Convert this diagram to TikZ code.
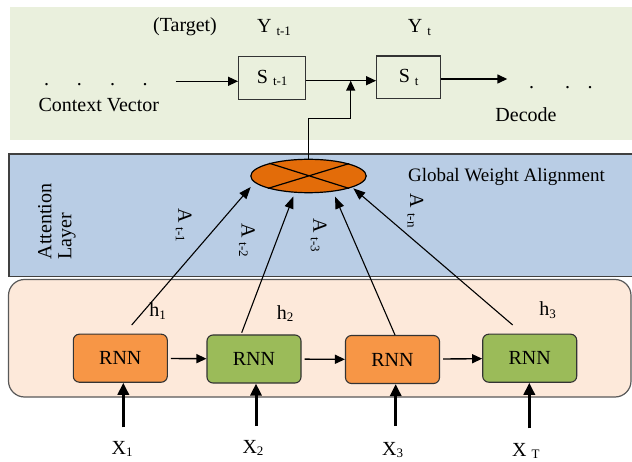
\documentclass[tikz,border=0pt]{standalone}
\usepackage{fontspec}
\setmainfont{Liberation Serif}
\usetikzlibrary{arrows.meta,shapes.geometric}
\newcommand\sbs[1]{\raisebox{-2.5pt}{\fontsize{13}{13}\selectfont #1}}
\definecolor{greenbg}{HTML}{EAF0DD}
\definecolor{bluebg}{HTML}{B9CDE5}
\definecolor{peach}{HTML}{FDE9DA}
\definecolor{ellorange}{HTML}{E36C09}
\definecolor{rnnorange}{HTML}{F79646}
\definecolor{rnngreen}{HTML}{9BBB59}
\begin{document}
\begin{tikzpicture}[x=1pt,y=-1pt,
  txt/.style={font=\fontsize{20}{22}\selectfont, inner sep=0pt, anchor=base},
  sbox/.style={draw=black!80, line width=1.3pt, minimum width=67pt, minimum height=43pt, inner sep=0pt, font=\fontsize{20}{22}\selectfont},
  rnn/.style={draw=black!80, line width=1.1pt, rounded corners=6pt, minimum width=94pt, minimum height=48pt, inner sep=0pt, font=\fontsize{20}{22}\selectfont},
  arr/.style={line width=1.4pt, -{Triangle[length=10pt,width=9pt]}},
  att/.style={line width=1.1pt, -{Triangle[length=12pt,width=9pt]}},
  inp/.style={line width=3pt, -{Triangle[length=12pt,width=11pt]}},
  rot/.style={font=\fontsize{20}{22}\selectfont, inner sep=0pt, rotate=-90}
]
\useasboundingbox (0,0) rectangle (632,462);
\fill[white] (0,0) rectangle (632,462);
% regions
\fill[greenbg] (10,7) rectangle (632,140);
\filldraw[fill=bluebg, draw=black!75, line width=1.3pt] (9,154) rectangle (640,276.5);
\filldraw[fill=peach, draw=black!65, line width=1.2pt, rounded corners=16pt] (8.5,279.5) rectangle (631,397);

% decoder part
\node[txt] (target) at (185,32) {(Target)};
\node[txt] (yt1) at (274,33) {Y \sbs{t-1}};
\node[txt] (yt) at (419.5,33) {Y \sbs{t}};
\node[txt] (cv) at (98.8,112) {Context Vector};
\node[txt] (dec) at (526,121.5) {Decode};
\foreach \x [count=\i] in {46.7,79.3,112.7,145} \node[txt] (dl\i) at (\x,85.5) {.};
\foreach \x [count=\i] in {531.7,567.7,590} \node[txt] (dr\i) at (\x,88.8) {.};

\node[sbox] (St1) at (272.2,77.7) {S \sbs{t-1}};
\node[sbox, minimum width=64pt, minimum height=42.3pt] (St) at (408.7,77.3) {S \sbs{t}};

\coordinate (cvs) at (175.7,81.3);
\draw[arr] (cvs) -- (cvs -| St1.west);
\coordinate (mid) at (0,80.7);
\draw[arr] (St1.east |- mid) -- (St.west |- mid);
\coordinate (dece) at (507.3,79);
\draw[arr] (St.east |- dece) -- (dece);

% attention layer
\node[ellipse, draw=black, line width=1.2pt, fill=ellorange, minimum width=115.4pt, minimum height=33.4pt, inner sep=0pt] (ell) at (308.5,176) {};
\draw[line width=1.2pt] (ell.17.5) -- (ell.197.5) (ell.162.5) -- (ell.-17.5);
\coordinate (jog) at (350.7,118.3);
\draw[arr] (ell.north) |- (jog) -- (jog |- mid);

\node[txt, font=\fontsize{19}{21}\selectfont] (gwa) at (506.5,181.7) {Global Weight Alignment};
\node[rotate=90, align=left, font=\fontsize{20}{20}\selectfont, inner sep=0pt] (attl) at (57,221.5) {Attention\\Layer};

\node[rot] (a1) at (183.7,225) {A \sbs{t-1}};
\node[rot] (a2) at (247,240) {A \sbs{t-2}};
\node[rot] (a3) at (318.7,235) {A \sbs{t-3}};
\node[rot] (an) at (415.3,210.7) {A \sbs{t-n}};

% encoder
\node[rnn, fill=rnnorange] (R1) at (120.3,358.2) {RNN};
\node[rnn, fill=rnngreen] (R2) at (254,359) {RNN};
\node[rnn, fill=rnnorange] (R3) at (392.5,359.5) {RNN};
\node[rnn, fill=rnngreen] (R4) at (529.7,358.2) {RNN};
\draw[arr, shorten <=3pt] (R1) -- (R2);
\draw[arr, shorten <=3pt] (R2) -- (R3);
\draw[arr, shorten <=3pt] (R3) -- (R4);

\node[txt] (h1) at (157.5,316.5) {h\sbs{1}};
\node[txt] (h2) at (285,319.3) {h\sbs{2}};
\node[txt] (h3) at (547.5,316) {h\sbs{3}};

\coordinate (s1) at (131.7,325);   \coordinate (e1) at (250.7,187);
\coordinate (s2) at (241.7,332.7); \coordinate (e2) at (293.3,196.5);
\coordinate (s3) at (395,335);     \coordinate (e3) at (335,196.7);
\coordinate (s4) at (512.7,325);   \coordinate (e4) at (353.3,188.3);
\draw[att] (s1) -- (e1);
\draw[att] (s2) -- (e2);
\draw[att] (s3) -- (e3);
\draw[att] (s4) -- (e4);

% inputs
\coordinate (i1) at (123.3,427.3);
\coordinate (i2) at (256,426);
\coordinate (i3) at (395.7,426);
\coordinate (i4) at (529.3,428.3);
\draw[inp] (i1) -- (i1 |- R1.south);
\draw[inp] (i2) -- (i2 |- R2.south);
\draw[inp] (i3) -- (i3 |- R3.south);
\draw[inp] (i4) -- (i4 |- R4.south);

\node[txt] (x1) at (122.2,454) {X\sbs{1}};
\node[txt] (x2) at (253,453) {X\sbs{2}};
\node[txt] (x3) at (392.7,455) {X\sbs{3}};
\node[txt] (xT) at (525.8,456) {X \sbs{T}};
\end{tikzpicture}
\end{document}
